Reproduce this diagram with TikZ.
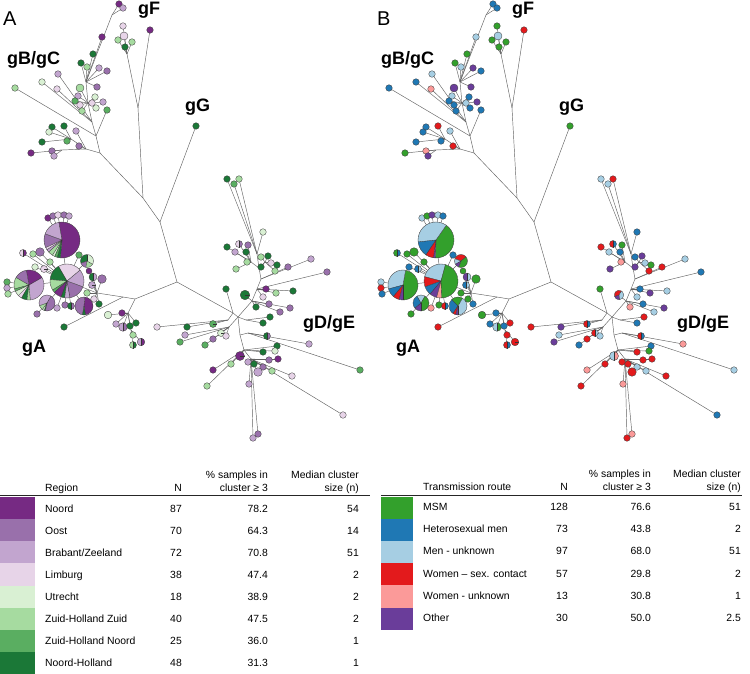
\documentclass[tikz,border=0pt]{standalone}
\usepackage{fontspec}
\setmainfont{Liberation Sans}
% Region colours (panel A)
\definecolor{cN}{HTML}{762A83}
\definecolor{cO}{HTML}{9970AB}
\definecolor{cB}{HTML}{C2A5CF}
\definecolor{cL}{HTML}{E7D4E8}
\definecolor{cU}{HTML}{D9F0D3}
\definecolor{cZ}{HTML}{A6DBA0}
\definecolor{cH}{HTML}{5AAE61}
\definecolor{cD}{HTML}{1B7837}
% Transmission colours (panel B)
\definecolor{tM}{HTML}{33A02C}
\definecolor{tS}{HTML}{1F78B4}
\definecolor{tK}{HTML}{A6CEE3}
\definecolor{tW}{HTML}{E31A1C}
\definecolor{tP}{HTML}{FB9A99}
\definecolor{tT}{HTML}{6A3D9A}
\tikzset{
  branch/.style={draw=black!62, line width=0.45pt},
  leafnode/.style={circle, draw=black!75, line width=0.35pt, inner sep=0pt},
  pieline/.style={draw=black!80, line width=0.35pt},
  glabel/.style={font=\fontsize{18}{20}\selectfont\bfseries, inner sep=0pt},
  tabtext/.style={font=\fontsize{10.4}{12}\selectfont, inner sep=0pt},
}
\def\pnl{1}
\def\pfx{a}
\def\pass{0}
% leaf: [radius] name x y parent colourA colourB
\newcommand\lf[7][3.3]{%
  \ifnum\pass=0
    \coordinate (\pfx#2) at (#3,#4);
    \draw[branch] (\pfx#5) -- (\pfx#2);
  \else
    \ifnum\pnl=1 \def\lfc{#6}\else\def\lfc{#7}\fi
    \node[leafnode, minimum size={2*#1pt}, fill=\lfc] (\pfx#2) at (#3,#4) {};
  \fi
}
% pie: name x y r parent slicesA slicesB
\newcommand\pie[7]{%
  \ifnum\pass=0
    \coordinate (\pfx#1) at (#2,#3);
    \draw[branch] (\pfx#5) -- (\pfx#1);
  \else
    \ifnum\pnl=1 \def\sl{#6}\else\def\sl{#7}\fi
    \node[circle, inner sep=0pt, minimum size={2*#4pt}] (\pfx#1) at (#2,#3) {};
    \foreach \sa/\sb/\sc in \sl {\fill[fill=\sc] (\pfx#1.center) -- ++(\sa:#4pt) arc[start angle=\sa, end angle=\sb, radius=#4pt] -- cycle;}
    \foreach \sa/\sb/\sc in \sl {\draw[pieline] (\pfx#1.center) -- ++(\sa:#4pt);}
    \draw[pieline, draw=black!75] (\pfx#1.center) circle[radius=#4pt];
  \fi
}
\newcommand\treedraw{%
  \coordinate (\pfx R1) at (177,282);
  \coordinate (\pfx NFG) at (160,222);
  \coordinate (\pfx NBF) at (143,198);
  \coordinate (\pfx F0) at (138,108);
  \coordinate (\pfx F1) at (127,54);
  \coordinate (\pfx B0) at (100,153);
  \coordinate (\pfx B1) at (96,136);
  \coordinate (\pfx B2) at (92,122);
  \coordinate (\pfx U1) at (88,103);
  \coordinate (\pfx U2) at (86,82);
  \coordinate (\pfx U3) at (112,15);
  \coordinate (\pfx L1) at (86,149);
  \coordinate (\pfx G24) at (62,150);
  \coordinate (\pfx G25) at (71,139);
  \coordinate (\pfx GA0) at (135,299);
  \coordinate (\pfx GA1) at (123,297);
  \coordinate (\pfx GA2) at (97,293);
  \coordinate (\pfx GS) at (128,313);
  \coordinate (\pfx GS2) at (131,330);
  \coordinate (\pfx H0) at (233,313);
  \coordinate (\pfx H1) at (238,317);
  \coordinate (\pfx T1) at (252,301);
  \coordinate (\pfx T2) at (257,289);
  \coordinate (\pfx T2b) at (261,279);
  \coordinate (\pfx T3) at (259,268);
  \coordinate (\pfx T3a) at (251,262);
  \coordinate (\pfx T3b) at (265,262);
  \coordinate (\pfx T4) at (257,254);
  \coordinate (\pfx E1) at (246,320);
  \coordinate (\pfx LF1) at (228,320);
  \coordinate (\pfx LF2) at (229,327);
  \coordinate (\pfx D1) at (240,335);
  \coordinate (\pfx D1b) at (248,333);
  \coordinate (\pfx D2) at (244,350);
  \coordinate (\pfx D3) at (251,359);
  \ifnum\pass=0
  \draw[branch] (\pfx NFG) -- (\pfx R1);
  \draw[branch] (\pfx NBF) -- (\pfx NFG);
  \draw[branch] (\pfx F0) -- (\pfx NBF);
  \draw[branch] (\pfx F1) -- (\pfx F0);
  \draw[branch] (\pfx B0) -- (\pfx NBF);
  \draw[branch] (\pfx B1) -- (\pfx B0);
  \draw[branch] (\pfx B2) -- (\pfx B1);
  \draw[branch] (\pfx U1) -- (\pfx B2);
  \draw[branch] (\pfx U2) -- (\pfx U1);
  \draw[branch] (\pfx U3) -- (\pfx U2);
  \draw[branch] (\pfx L1) -- (\pfx B0);
  \draw[branch] (\pfx G24) -- (\pfx L1);
  \draw[branch] (\pfx G25) -- (\pfx L1);
  \draw[branch] (\pfx GA0) -- (\pfx R1);
  \draw[branch] (\pfx GA1) -- (\pfx GA0);
  \draw[branch] (\pfx GA2) -- (\pfx GA1);
  \draw[branch] (\pfx GS) -- (\pfx GA0);
  \draw[branch] (\pfx GS2) -- (\pfx GS);
  \draw[branch] (\pfx H0) -- (\pfx R1);
  \draw[branch] (\pfx H1) -- (\pfx H0);
  \draw[branch] (\pfx T1) -- (\pfx H1);
  \draw[branch] (\pfx T2) -- (\pfx T1);
  \draw[branch] (\pfx T2b) -- (\pfx T2);
  \draw[branch] (\pfx T3) -- (\pfx T2b);
  \draw[branch] (\pfx T3a) -- (\pfx T3);
  \draw[branch] (\pfx T3b) -- (\pfx T3);
  \draw[branch] (\pfx T4) -- (\pfx T3);
  \draw[branch] (\pfx E1) -- (\pfx H1);
  \draw[branch] (\pfx LF1) -- (\pfx H0);
  \draw[branch] (\pfx LF2) -- (\pfx H1);
  \draw[branch] (\pfx D1) -- (\pfx H1);
  \draw[branch] (\pfx D1b) -- (\pfx D1);
  \draw[branch] (\pfx D2) -- (\pfx D1);
  \draw[branch] (\pfx D3) -- (\pfx D2);
  \fi
  % gB/gC
  \lf{l1}{15}{88}{B1}{cZ}{tS}
  \lf{l2}{42}{82}{B2}{cU}{tS}
  \lf{l3}{58}{74}{B2}{cB}{tK}
  \lf{l4}{57}{89}{B2}{cL}{tP}
  \lf[4]{l5}{80}{88}{U1}{cZ}{tT}
  \lf{l6}{78}{96}{U1}{cB}{tK}
  \lf{l7}{75}{101}{U1}{cH}{tS}
  \lf{l8}{80}{105}{U1}{cL}{tS}
  \lf{l9}{82}{111}{U1}{cZ}{tS}
  \lf{l10}{92}{103}{U1}{cL}{tK}
  \lf{l11}{95}{97}{U1}{cU}{tS}
  \lf{l12}{96}{108}{U1}{cU}{tS}
  \lf{l13}{103}{102}{U1}{cB}{tT}
  \lf{l14}{97}{87}{U2}{cO}{tT}
  \lf{l15}{107}{110}{B1}{cH}{tS}
  \lf{l16}{81}{63}{U2}{cD}{tM}
  \lf{l17}{87}{67}{U2}{cZ}{tK}
  \lf{l18}{93}{54}{U2}{cD}{tM}
  \lf{l19}{99}{68}{U2}{cB}{tT}
  \lf{l20}{107}{71}{U2}{cO}{tS}
  \lf{l21}{102}{37}{U2}{cN}{tK}
  \lf{l22}{119}{4}{U3}{cN}{tS}
  \lf{l23}{123}{8}{U3}{cB}{tS}
  \lf{l24}{31}{153}{G24}{cN}{tM}
  \lf{l25}{42}{142}{G25}{cD}{tS}
  \lf{l26}{52}{127}{G25}{cD}{tS}
  \lf{l27}{49}{132}{G25}{cU}{tS}
  \lf{l28}{64}{126}{G25}{cD}{tW}
  \lf{l29}{76}{131}{L1}{cB}{tK}
  \lf{l30}{67}{141}{G25}{cH}{tS}
  \lf{l31}{79}{146}{L1}{cO}{tW}
  \lf{l32}{52}{151}{G24}{cO}{tP}
  \lf{l33}{54}{156}{G24}{cB}{tT}
  % gF and gG
  \lf{l34}{123}{26}{F1}{cL}{tM}
  \lf[4]{l35}{124}{36}{F1}{cL}{tK}
  \lf{l36}{118}{40}{F1}{cZ}{tM}
  \lf{l37}{132}{42}{F1}{cZ}{tM}
  \lf{l38}{125}{47}{F1}{cD}{tM}
  \lf{l39}{150}{30}{F0}{cN}{tW}
  \lf{lg}{196}{126}{NFG}{cD}{tM}
  % gA pies
  \pie{P3}{67}{281}{17}{GA2}{40/120/cL,120/175/cD,175/212/cZ,212/222/cH,222/250/cN,250/262/cD,262/280/cB,280/340/cO,340/400/cB}{75/165/tK,165/200/tW,200/230/tS,230/255/tT,255/272/tP,272/435/tM}
  \pie{P1}{62}{240}{18}{P3}{-95/100/cN,100/160/cB,160/205/cO,205/213/cL,213/222/cB,222/238/cZ,238/246/cU,246/255/cH,255/265/cD}{-92/55/tM,55/186/tK,186/236/tS,236/262/tW,262/268/tT}
  \pie{P2}{29}{285}{15}{P3}{-85/30/cB,30/100/cN,100/150/cO,150/195/cZ,195/205/cH,205/225/cU,225/240/cL,240/262/cD,262/275/cZ}{-90/80/tM,80/195/tK,195/230/tS,230/255/tW,255/270/tT}
  \pie{P4}{47}{303}{8}{P3}{60/200/cB,200/235/cZ,235/250/cU,250/258/cD,258/420/cO}{60/120/tK,120/220/tS,220/270/tT,270/420/tM}
  \pie{P5}{84}{306}{9}{P3}{-80/85/cN,85/260/cO,260/280/cD}{60/135/tM,135/235/tS,235/255/tW,255/270/tT,270/420/tK}
  \pie{P6}{87}{261}{6.5}{P3}{90/200/cD,200/260/cO,260/330/cZ,330/450/cU}{40/160/tW,160/210/tK,210/250/tT,250/400/tM}
  % gA small leaves
  \lf{a1}{48}{218}{P1}{cN}{tK}
  \lf{a2}{53}{216}{P1}{cO}{tM}
  \lf{a3}{58}{215}{P1}{cL}{tT}
  \lf{a4}{64}{215}{P1}{cO}{tK}
  \lf{a5}{69}{216}{P1}{cB}{tS}
  \lf{a6}{7}{282}{P2}{cH}{tK}
  \lf{a7}{7}{288}{P2}{cB}{tW}
  \lf{a8}{8}{294}{P2}{cZ}{tS}
  \pie{a9}{23}{253}{3.5}{P3}{90/270/cL,270/450/cN}{90/270/tM,270/450/tS}
  \lf{a10}{33}{254}{P3}{cZ}{tM}
  \lf[4.3]{a11}{40}{252}{P3}{cO}{tM}
  \lf{a12}{50}{262}{P3}{cZ}{tM}
  \lf{a13}{35}{267}{P3}{cU}{tS}
  \pie{a14}{44}{269}{3.5}{P3}{0/360/cL}{90/270/tS,270/450/tK}
  \lf{a15}{79}{255}{P3}{cH}{tS}
  \lf[3]{a16}{89}{271}{GA2}{cN}{tM}
  \pie{a17}{93}{277}{4}{GA2}{90/270/cD,270/450/cB}{90/270/tT,270/450/tK}
  \lf[4.3]{a18}{102}{279}{GA2}{cO}{tM}
  \pie{a19}{92}{285}{3.5}{GA2}{0/360/cB}{90/270/tS,270/450/tK}
  \lf{a20}{87}{293}{GA2}{cZ}{tM}
  \lf{a21}{94}{299}{GA2}{cL}{tM}
  \lf{a22}{99}{304}{GA2}{cD}{tS}
  \lf{a23}{57}{308}{P3}{cB}{tP}
  \lf{a24}{65}{305}{P3}{cO}{tM}
  \pie{a25}{71}{306}{3.5}{P3}{90/270/cD,270/450/cO}{90/270/tW,270/450/tS}
  \lf{a26}{37}{314}{P4}{cO}{tM}
  \lf{a27}{64}{327}{GA1}{cD}{tW}
  % gA sub-cluster
  \lf{s1}{122}{313}{GS}{cN}{tS}
  \lf[3.8]{s2}{108}{315}{GS}{cU}{tM}
  \lf{s3}{116}{324}{GS}{cB}{tS}
  \pie{s4}{123}{327}{4.3}{GS}{90/270/cB,270/450/cO}{90/270/tK,270/450/tM}
  \lf{s5}{130}{326}{GS}{cD}{tS}
  \lf{s6}{136}{323}{GS}{cD}{tW}
  \lf{s7}{133}{335}{GS2}{cZ}{tW}
  \pie{s8}{133}{345}{3.5}{GS2}{90/270/cZ,270/450/cD}{90/270/tW,270/450/tS}
  \pie{s9}{141}{342}{3.8}{GS2}{90/270/cB,270/450/cN}{0/360/tW}
  % gD/gE
  \lf{d1}{227}{179}{T4}{cD}{tK}
  \lf{d2}{239}{179}{T4}{cZ}{tW}
  \lf{d3}{234}{184}{T4}{cH}{tK}
  \lf{d4}{263}{232}{T4}{cU}{tS}
  \pie{d5}{239}{244}{3.5}{T3a}{90/270/cL,270/450/cO}{90/270/tW,270/450/tS}
  \lf{d6}{248}{245}{T3a}{cO}{tM}
  \lf{d7}{227}{247}{T3a}{cD}{tW}
  \lf{d8}{235}{252}{T3a}{cB}{tK}
  \lf{d9}{246}{252}{T3a}{cD}{tS}
  \lf{d10}{247}{262}{T3a}{cZ}{tP}
  \lf{d11}{236}{269}{T3a}{cZ}{tT}
  \lf{d12}{261}{257}{T3b}{cZ}{tS}
  \lf{d13}{268}{256}{T3b}{cD}{tT}
  \lf{d14}{261}{267}{T3b}{cD}{tT}
  \lf{d15}{271}{263}{T3b}{cL}{tK}
  \lf{d16}{277}{265}{T3b}{cD}{tM}
  \lf{d17}{275}{271}{T3b}{cZ}{tW}
  \lf{d18}{288}{267}{T2b}{cO}{tW}
  \lf{d19}{311}{259}{T2b}{cB}{tK}
  \lf{d20}{327}{272}{T2}{cO}{tS}
  \lf{d21}{266}{289}{T2}{cN}{tS}
  \lf{d22}{263}{297}{T2}{cL}{tK}
  \lf{d23}{276}{293}{T2}{cZ}{tT}
  \lf{d24}{293}{291}{T2}{cD}{tK}
  \lf{d25}{256}{307}{T1}{cD}{tP}
  \lf{d26}{269}{304}{T1}{cO}{tS}
  \lf{d27}{280}{312}{T1}{cO}{tK}
  \lf{d28}{290}{308}{T1}{cO}{tT}
  \pie{d29}{245}{295}{4.8}{T1}{0/360/cD}{60/200/tW,200/280/tT,280/420/tK}
  \lf{d30}{226}{289}{H0}{cD}{tM}
  \lf{d31}{270}{317}{E1}{cD}{tW}
  \lf{d32}{263}{323}{E1}{cD}{tS}
  \lf{d33}{157}{327}{LF1}{cL}{tW}
  \lf{d34}{187}{327}{LF1}{cD}{tT}
  \pie{d35}{213}{324}{3.5}{LF1}{0/360/cH}{90/270/tW,270/450/tS}
  \lf{d36}{185}{335}{LF2}{cB}{tK}
  \lf{d37}{180}{342}{LF2}{cH}{tT}
  \pie{d38}{221}{333}{3.5}{LF2}{0/360/cU}{90/270/tW,270/450/tK}
  \lf{d39}{226}{336}{LF2}{cL}{tK}
  \lf{d40}{213}{339}{LF2}{cO}{tW}
  \lf{d41}{205}{345}{LF2}{cH}{tS}
  \pie{d42}{267}{336}{3.5}{D1b}{90/270/cD,270/450/cO}{90/270/tW,270/450/tS}
  \lf{d43}{309}{344}{D1b}{cB}{tP}
  \lf{d44}{360}{370}{D1b}{cH}{tK}
  \lf{d45}{277}{346}{D2}{cD}{tS}
  \lf{d46}{275}{351}{D2}{cU}{tM}
  \lf{d47}{263}{352}{D2}{cD}{tW}
  \pie{d48}{240}{356}{4.5}{D2}{0/360/cN}{90/270/tK,270/450/tP}
  \lf{d49}{231}{364}{D2}{cZ}{tW}
  \lf{d50}{213}{370}{D2}{cN}{tP}
  \lf{d51}{207}{386}{D2}{cZ}{tW}
  \lf{d52}{248}{362}{D3}{cB}{tW}
  \lf{d53}{254}{364}{D3}{cD}{tW}
  \lf{d54}{263}{367}{D3}{cO}{tK}
  \lf{d55}{269}{360}{D3}{cO}{tW}
  \lf{d56}{278}{359}{D3}{cN}{tW}
  \lf{d57}{272}{371}{D3}{cZ}{tK}
  \lf[4.3]{d58}{258}{372}{D3}{cB}{tW}
  \lf{d59}{292}{376}{D3}{cL}{tW}
  \lf{d60}{343}{415}{D3}{cL}{tS}
  \lf{d61}{249}{384}{D3}{cB}{tP}
  \lf{d62}{253}{438}{D3}{cB}{tW}
  \lf{d63}{258}{434}{D3}{cO}{tP}
  % group labels
  \ifnum\pass=1
  \node[glabel, anchor=base west] (\pfx gF) at (138,15) {gF};
  \node[glabel, anchor=base west] (\pfx gBC) at (7,65) {gB/gC};
  \node[glabel, anchor=base west] (\pfx gG) at (185,112) {gG};
  \node[glabel, anchor=base west] (\pfx gDE) at (303,328) {gD/gE};
  \node[glabel, anchor=base west] (\pfx gA) at (22,352) {gA};
  \fi
}
\newcommand\BZ{Brabant/Zeeland}
\begin{document}
\begin{tikzpicture}[x=1pt,y=-1pt]
\useasboundingbox (0,0) rectangle (750,674);
% panel A
\def\pnl{1}\def\pfx{a}
\def\pass{0}\treedraw
\def\pass{1}\treedraw
\node[anchor=base west, inner sep=0pt, font=\fontsize{20}{22}\selectfont] (lblA) at (3,26) {A};
% panel B
\begin{scope}[xshift=374pt]
\def\pnl{2}\def\pfx{b}
\def\pass{0}\treedraw
\def\pass{1}\treedraw
\end{scope}
\node[anchor=base west, inner sep=0pt, font=\fontsize{20}{22}\selectfont] (lblB) at (377,26) {B};
% table A
\node[tabtext, anchor=base west] (haR) at (45,491) {Region};
\node[tabtext, anchor=base east] (haN) at (182,491) {N};
\node[tabtext, anchor=base east] (haP1) at (268,478) {\% samples in};
\node[tabtext, anchor=base east] (haP2) at (268,491) {cluster ≥ 3};
\node[tabtext, anchor=base east] (haM1) at (359,478) {Median cluster};
\node[tabtext, anchor=base east] (haM2) at (359,491) {size (n)};
\foreach \nm/\nn/\pp/\mm/\cc [count=\i from 0] in {Noord/87/78.2/54/cN, Oost/70/64.3/14/cO, \BZ/72/70.8/51/cB, Limburg/38/47.4/2/cL, Utrecht/18/38.9/2/cU, Zuid-Holland Zuid/40/47.5/2/cZ, Zuid-Holland Noord/25/36.0/1/cH, Noord-Holland/48/31.3/1/cD}{
  \fill[fill=\cc] (0,{497.3+22.06*\i}) rectangle (35,{519.4+22.06*\i});
  \node[tabtext, anchor=base west] (ra-\i) at (45,{512+22.06*\i}) {\nm};
  \node[tabtext, anchor=base east] (rn-\i) at (182,{512+22.06*\i}) {\nn};
  \node[tabtext, anchor=base east] (rp-\i) at (268,{512+22.06*\i}) {\pp};
  \node[tabtext, anchor=base east] (rm-\i) at (359,{512+22.06*\i}) {\mm};
}
\draw[line width=1.2pt, black!85] (0,495.8) -- (370,495.8);
% table B
\node[tabtext, anchor=base west] (hbR) at (423,490) {Transmission route};
\node[tabtext, anchor=base east] (hbN) at (568,490) {N};
\node[tabtext, anchor=base east] (hbP1) at (651,477) {\% samples in};
\node[tabtext, anchor=base east] (hbP2) at (651,490) {cluster ≥ 3};
\node[tabtext, anchor=base east] (hbM1) at (741,477) {Median cluster};
\node[tabtext, anchor=base east] (hbM2) at (741,490) {size (n)};
\foreach \nm/\nn/\pp/\mm/\cc [count=\i from 0] in {MSM/128/76.6/51/tM, Heterosexual men/73/43.8/2/tS, Men - unknown/97/68.0/51/tK, Women – sex. contact/57/29.8/2/tW, Women - unknown/13/30.8/1/tP, Other/30/50.0/2.5/tT}{
  \fill[fill=\cc] (381,{496.8+22.15*\i}) rectangle (413,{518.95+22.15*\i});
  \node[tabtext, anchor=base west] (sa-\i) at (423,{510.6+22.15*\i}) {\nm};
  \node[tabtext, anchor=base east] (sn-\i) at (568,{510.6+22.15*\i}) {\nn};
  \node[tabtext, anchor=base east] (sp-\i) at (651,{510.6+22.15*\i}) {\pp};
  \node[tabtext, anchor=base east] (sm-\i) at (741,{510.6+22.15*\i}) {\mm};
}
\draw[line width=1.2pt, black!85] (381,495.8) -- (742,495.8);
\end{tikzpicture}
\end{document}
